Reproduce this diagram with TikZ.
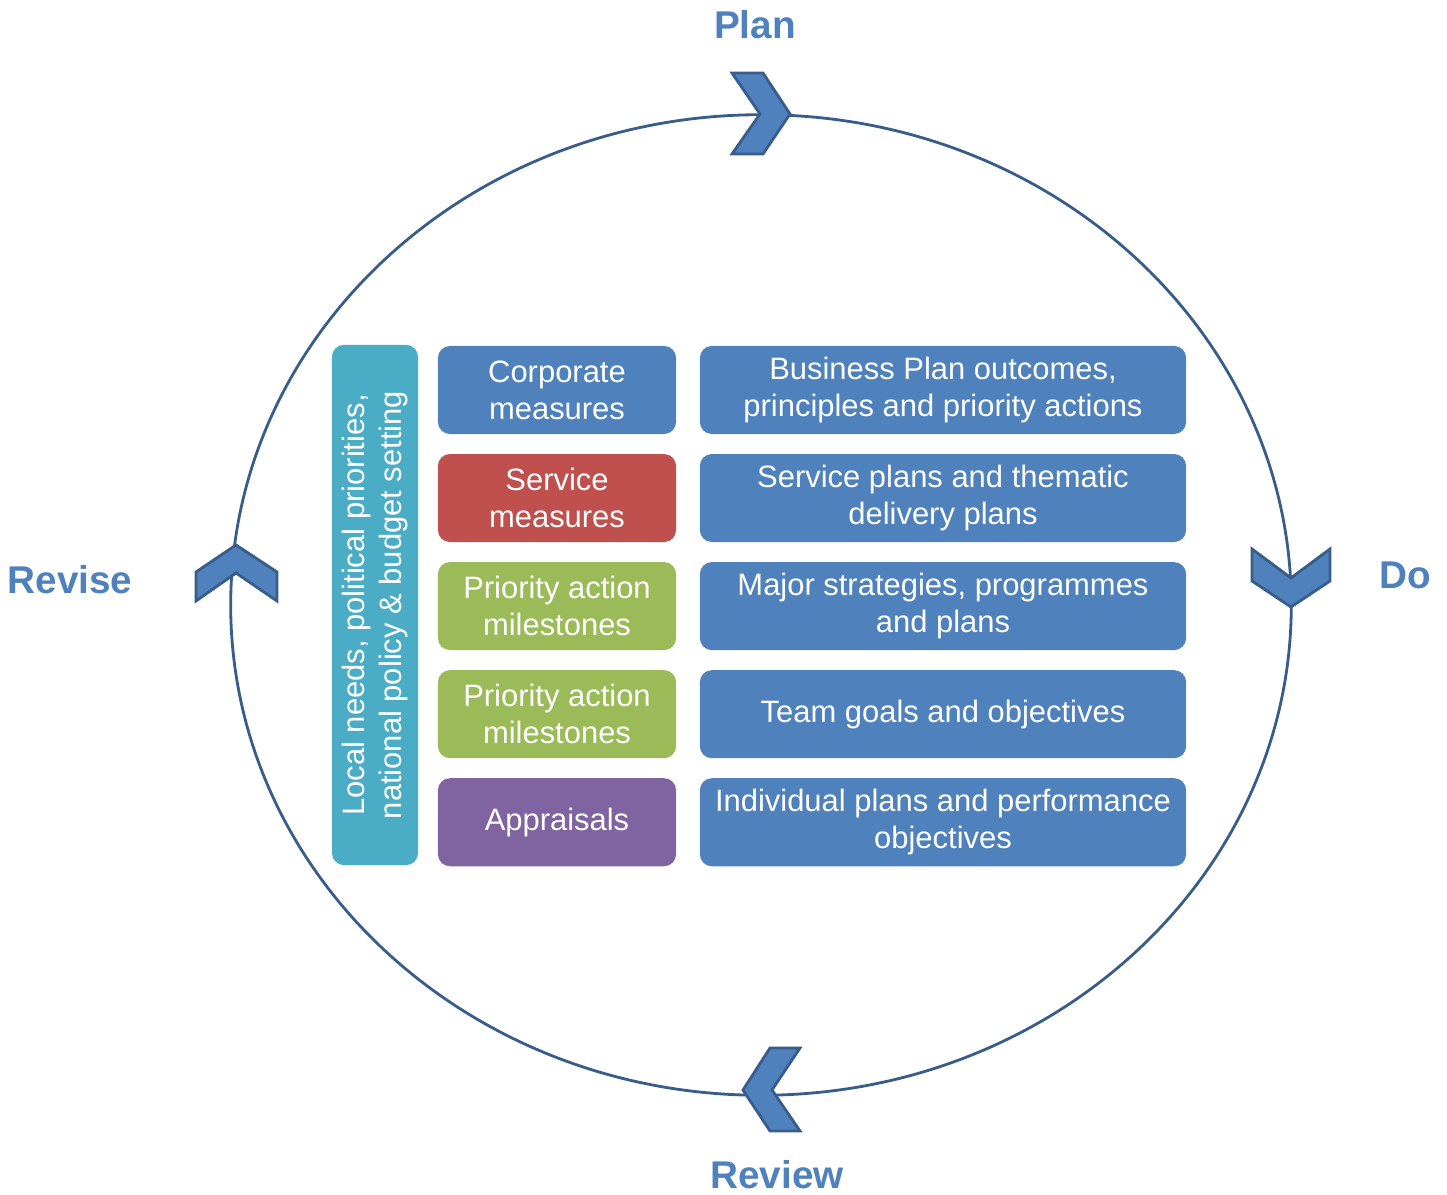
\documentclass[tikz,border=0pt]{standalone}
\usepackage{fontspec}
\setmainfont{Liberation Sans}
\usetikzlibrary{positioning}
\definecolor{accblue}{HTML}{4F81BD}
\definecolor{darkblue}{HTML}{385D8A}
\definecolor{accred}{HTML}{C0504D}
\definecolor{accgreen}{HTML}{9BBB59}
\definecolor{accpurple}{HTML}{8064A2}
\definecolor{accteal}{HTML}{4BACC6}

\begin{document}
\begin{tikzpicture}[x=0.01cm,y=-0.01cm,node distance=1.08cm]
\tikzstyle{box} = [rounded corners=0.12cm, rectangle, text=white, align=center, minimum height=0.88cm, inner sep=0pt, font=\fontsize{8.8}{10.6}\selectfont]
\tikzstyle{measure} = [box, minimum width=2.38cm]
\tikzstyle{plan} = [box, fill=accblue, minimum width=4.86cm]
\tikzstyle{phase} = [text=accblue, font=\fontsize{11}{13}\selectfont\bfseries]
\tikzstyle{chevron} = [draw=darkblue, fill=accblue, line width=0.8pt]

\useasboundingbox (0,0) rectangle (1447,1195);

% Cycle
\draw[darkblue, line width=0.8pt] (761,605) ellipse [x radius=5.3cm, y radius=4.9cm];
\draw[chevron] (732,73) -- (763,73) -- (790,114) -- (763,154) -- (732,154) -- (760,114) -- cycle;
\draw[chevron] (1252,549) -- (1291,578) -- (1330,549) -- (1330,581) -- (1291,607) -- (1252,581) -- cycle;
\draw[chevron] (800,1048) -- (770,1048) -- (743,1090) -- (770,1131) -- (800,1131) -- (772,1090) -- cycle;
\draw[chevron] (236,545) -- (277,572) -- (277,601) -- (236,573) -- (196,601) -- (196,572) -- cycle;
%
\node[phase] (plan) at (755,25) {Plan};
\node[phase] (do) at (1405,575) {Do};
\node[phase] (review) at (777,1175) {Review};
\node[phase] (revise) at (70,580) {Revise};

% Drivers
\node[box, fill=accteal, rotate=90, minimum width=5.2cm, minimum height=0.86cm] (drivers) at (375,605) {Local needs, political priorities,\\national policy \& budget setting};

% Measures
\node[measure, fill=accblue] (corp) at (557,390) {Corporate\\measures};
\node[measure, fill=accred, below of=corp] (serv) {Service\\measures};
\node[measure, fill=accgreen, below of=serv] (prio) {Priority action\\milestones};
\node[measure, fill=accgreen, below of=prio] (prio2) {Priority action\\milestones};
\node[measure, fill=accpurple, below of=prio2] (appr) {Appraisals};

% Plans
\node[plan] (bizplan) at (943,390) {Business Plan outcomes,\\principles and priority actions};
\node[plan, below of=bizplan] (servplan) {Service plans and thematic\\delivery plans};
\node[plan, below of=servplan] (strat) {Major strategies, programmes\\and plans};
\node[plan, below of=strat] (team) {Team goals and objectives};
\node[plan, below of=team] (indiv) {Individual plans and performance\\objectives};
%
\end{tikzpicture}
\end{document}
